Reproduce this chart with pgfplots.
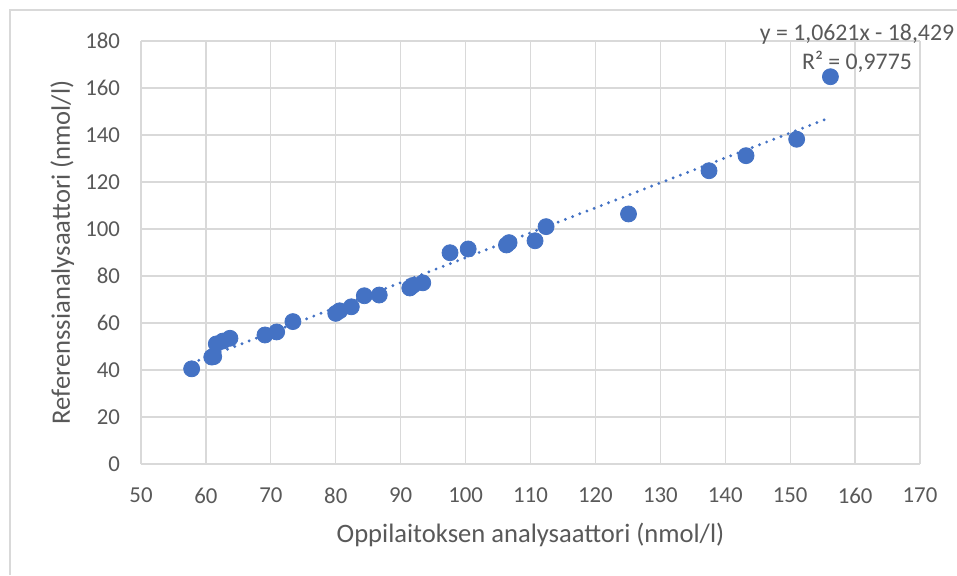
\documentclass[border=0pt]{standalone}
\usepackage{pgfplots}
\pgfplotsset{compat=1.18}
\usepackage{fontspec}
\setmainfont{Carlito}
\definecolor{dotblue}{HTML}{4472C4}
\definecolor{txtgray}{HTML}{595959}
\definecolor{gridgray}{HTML}{D9D9D9}
\begin{document}
\begin{tikzpicture}
\useasboundingbox[fill=white] (0,0) rectangle (478.5pt,287.5pt);
\draw[gridgray, line width=0.6pt] (5pt,0) -- (5pt,282.5pt) -- (478.5pt,282.5pt);
\begin{axis}[
  at={(70.5pt,55.5pt)}, anchor=south west,
  scale only axis, width=389.5pt, height=211.5pt,
  xmin=50, xmax=170, ymin=0, ymax=180,
  xtick={50,60,...,170}, ytick={0,20,...,180},
  grid=major,
  major grid style={gridgray, line width=0.6pt},
  axis line style={draw=none},
  major tick length=0pt,
  /pgf/number format/assume math mode=true,
  tick label style={font=\fontsize{11.4}{12}\selectfont, text=txtgray},
  xticklabel style={yshift=-8.5pt},
  yticklabel style={xshift=-7pt},
  xlabel={Oppilaitoksen analysaattori (nmol/l)},
  ylabel={Referenssianalysaattori (nmol/l)},
  label style={font=\fontsize{13.3}{15}\selectfont, text=txtgray},
  xlabel style={at={(axis description cs:0.5,-0.168)}, anchor=center},
  ylabel style={at={(axis description cs:-0.101,0.5)}, anchor=center},
  clip=false,
]
\addplot[dotblue, line width=1.6pt, line cap=round, dash pattern=on 0pt off 3.85pt] coordinates {(57.8,42.96) (156.2,147.47)};
\addplot[only marks, mark=*, mark size=4pt, mark options={fill=dotblue, draw=dotblue}] coordinates {
(57.8,40.5) (60.9,45.5) (61.2,45.7) (61.6,51.1) (62.6,52.3) (63.7,53.5)
(69.1,54.9) (70.9,56.2) (73.4,60.6) (80.0,64.1) (80.6,65.2) (82.4,66.9)
(84.4,71.6) (86.7,71.9) (91.4,74.9) (91.9,76.0) (93.4,77.1) (97.6,89.9)
(100.4,91.5) (106.3,93.2) (106.7,94.2) (110.7,95.0) (112.4,101.0) (125.1,106.4)
(137.5,124.8) (143.2,131.2) (151.0,138.2) (156.2,164.8)
};
\end{axis}
\node[text=txtgray, font=\fontsize{11.9}{14.5}\selectfont, align=center] at (428.5pt,263.5pt) {y = 1,0621x - 18,429\\R² = 0,9775};
\end{tikzpicture}
\end{document}
